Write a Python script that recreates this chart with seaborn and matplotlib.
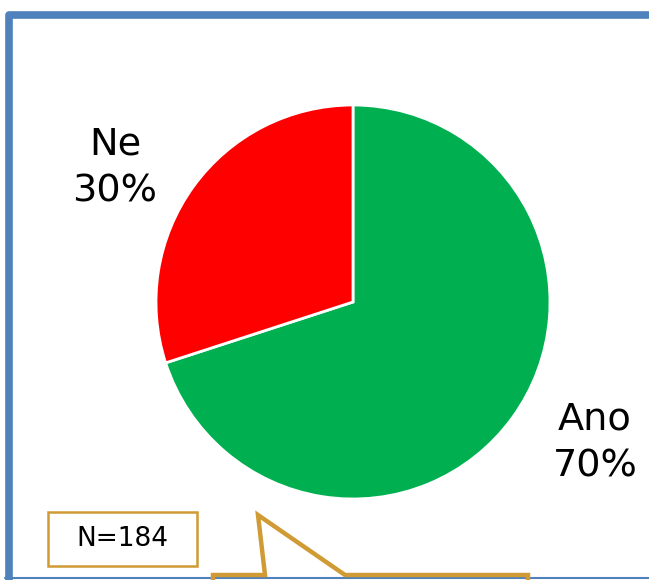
import numpy as np
import seaborn as sns
import matplotlib.pyplot as plt
from matplotlib.patches import Rectangle

sns.set_theme(style="white")
plt.rcParams['font.family'] = ['DejaVu Sans']
plt.rcParams['text.color'] = 'black'

# data
labels = ["Ano", "Ne"]
shares = [70, 30]
colors = ["#00B050", "#FF0000"]
n_text = "N=184"

W, H = 649, 580
fig = plt.figure(figsize=(W / 100, H / 100), dpi=100)
ax = fig.add_axes([0, 0, 1, 1])
ax.set_xlim(0, W)
ax.set_ylim(0, H)
ax.set_aspect('equal')
ax.axis('off')

# pie, centre/radius in pixel space
cx, cy, r = 353, H - 302, 197
wedges, _ = ax.pie(shares, colors=colors, startangle=90, counterclock=False,
                   center=(cx, cy), radius=r,
                   wedgeprops=dict(edgecolor="white", linewidth=2))
ax.set_xlim(0, W)
ax.set_ylim(0, H)

# labels outside the slices
lab_pos = [(595, H - 443), (115, H - 168)]
for lab, s, (x, y) in zip(labels, shares, lab_pos):
    ax.text(x, y, f"{lab}\n{s}%", ha="center", va="center", fontsize=27.5,
            color="black", linespacing=1.38)

# blue frame
blue = "#4F81BD"
ax.plot([8.5, 8.5, W + 10], [-5, H - 14.5, H - 14.5], color=blue, lw=5.5,
        solid_joinstyle="round", solid_capstyle="butt")
ax.plot([5, W + 10], [H - 577.5, H - 577.5], color=blue, lw=1.5)

# N box
gold = "#D09B35"
ax.add_patch(Rectangle((48, H - 566), 149, 54, facecolor="white",
                       edgecolor=gold, lw=1.8))
ax.text(122, H - 539, n_text, ha="center", va="center", fontsize=19,
        color="black")

# callout shape at the bottom
px = [213, 213, 265, 258, 345, 528, 528]
py = [-5, 5, 5, 65, 5, 5, -5]
ax.plot(px, py, color=gold, lw=3.2, solid_joinstyle="miter")

fig.savefig("out.png", dpi=100)
